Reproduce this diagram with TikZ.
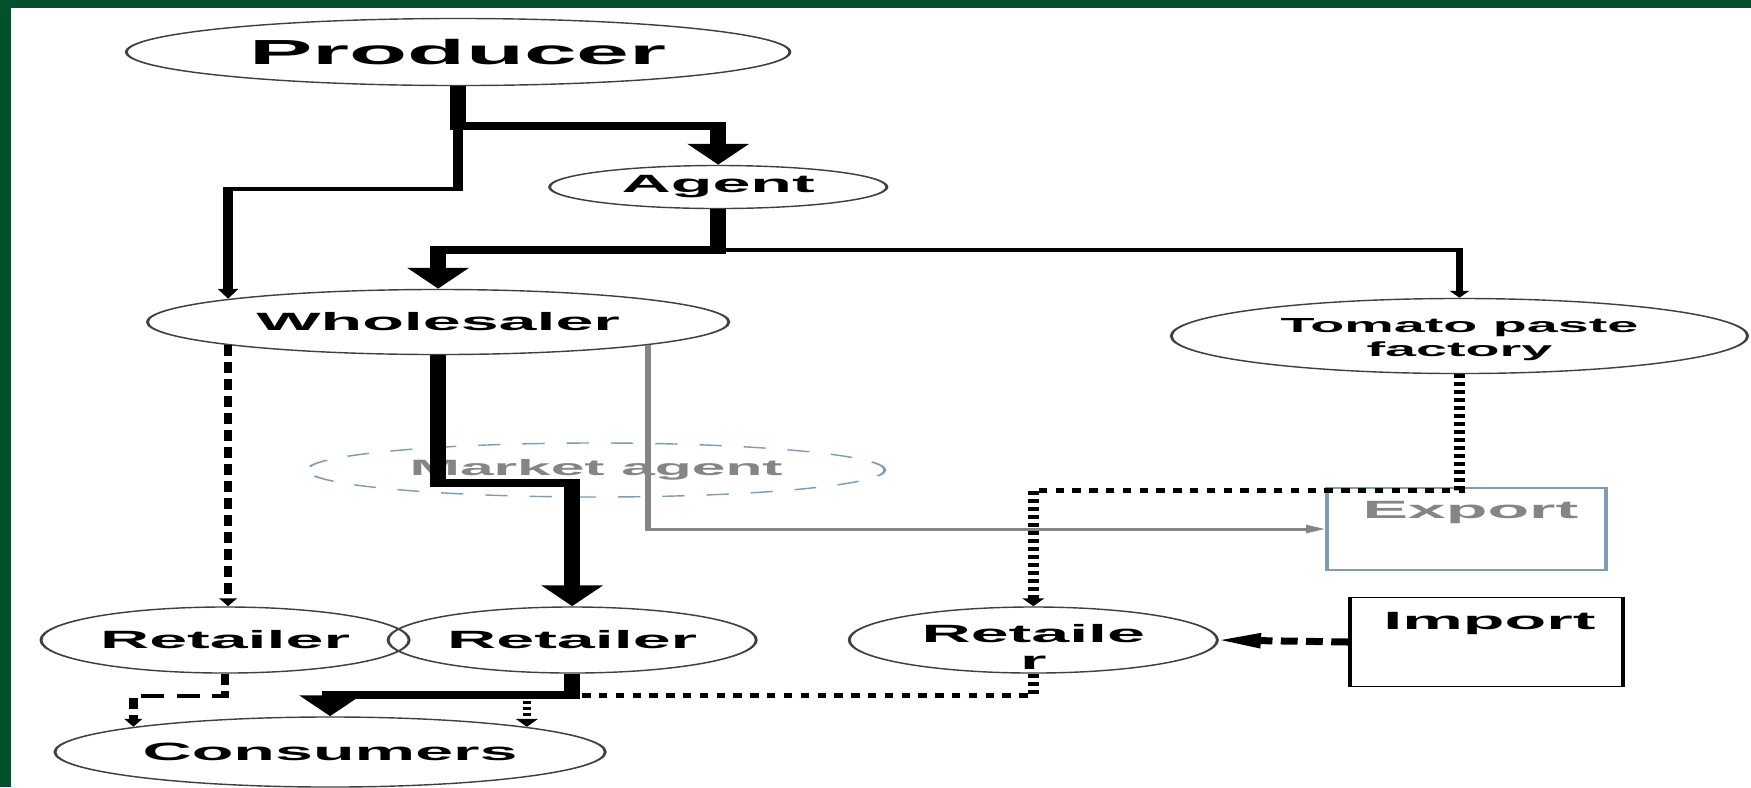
\documentclass[tikz,border=0pt]{standalone}
\usepackage{fontspec}
\usetikzlibrary{arrows.meta,shapes.geometric}
\newfontfamily\diagfont[FakeStretch=1.3]{Liberation Sans Bold}
\definecolor{bandgreen}{HTML}{03502D}
\definecolor{paleblue}{HTML}{7E9CB4}
\definecolor{linegray}{HTML}{858585}

\begin{document}
\begin{tikzpicture}[
	x=0.01cm, y=-0.01cm,
	every node/.style={font=\diagfont\fontsize{7.1}{7.7}\selectfont},
	bubble/.style={shape=ellipse, draw=black!75, line width=0.4pt, inner sep=0pt},
	dimbubble/.style={shape=ellipse, draw=paleblue, dashed, line width=0.4pt, inner sep=0pt, text=linegray},
	retailer/.style={bubble, minimum width=1.752cm, minimum height=0.66cm},
	tradebox/.style={shape=rectangle, draw, line width=0.5pt, inner sep=0pt},
	fatline/.style={line width=0.075cm, -{Triangle[width=0.28cm,length=0.21cm]}},
	midline/.style={line width=0.045cm, -{Triangle[width=0.09cm,length=0.1cm]}},
	thinline/.style={line width=0.033cm, -{Triangle[width=0.09cm,length=0.07cm]}},
	grayline/.style={draw=linegray, line width=0.03cm, -{Triangle[width=0.08cm,length=0.09cm]}},
	dashline/.style={line width=0.04cm, dash pattern=on 0.11cm off 0.06cm, -{Triangle[width=0.08cm,length=0.08cm]}},
	dotline/.style={line width=0.05cm, dash pattern=on 0.04cm off 0.04cm, -{Triangle[width=0.1cm,length=0.08cm]}},
	importline/.style={line width=0.07cm, dash pattern=on 0.08cm off 0.04cm, -{Triangle[width=0.14cm,length=0.2cm]}},
]
\useasboundingbox (0,0) rectangle (1751,787);
\fill[white] (0,0) rectangle (1751,787);
\fill[bandgreen] (0,0) rectangle (1751,7.5);
\fill[bandgreen] (0,0) rectangle (11,787);

\begin{scope}[transform canvas={xscale=2.1}, x=0.0047619cm]
\node[bubble, minimum width=3.157cm, minimum height=0.67cm, font=\diagfont\fontsize{9.9}{10}\selectfont] (prod) at (458,52) {Producer};
\node[bubble, minimum width=1.605cm, minimum height=0.43cm] (agent) at (718,187) {Agent};
\node[bubble, minimum width=2.767cm, minimum height=0.65cm] (whole) at (438,322) {Wholesaler};
\node[bubble, minimum width=2.743cm, minimum height=0.75cm] (fact) at (1459,336) {};
\node[align=center, font=\diagfont\fontsize{5.8}{6.8}\selectfont] (facttxt) at (1459,340) {Tomato paste\\factory};
\node[dimbubble, minimum width=2.748cm, minimum height=0.54cm, font=\diagfont\fontsize{6.3}{7}\selectfont] (magent) at (596,470) {Market agent};
\node[tradebox, draw=paleblue, minimum width=1.329cm, minimum height=0.82cm] (export) at (1466,529) {};
\node[text=linegray] (exptxt) at (1470,512) {Export};
\node[tradebox, minimum width=1.3cm, minimum height=0.89cm] (import) at (1486,642) {};
\node (imptxt) at (1489,623) {Import};
\node[retailer] (retL) at (225,640) {Retailer};
\node[retailer] (retM) at (572,640) {Retailer};
\node[retailer] (retR) at (1033,640) {};
\node[align=center] (retRtxt) at (1033,647) {Retaile\\r};
\node[bubble, minimum width=2.619cm, minimum height=0.7cm] (cons) at (330,752) {Consumers};

\coordinate (j1) at (458,126);
\coordinate (j2) at (718,250);
\coordinate (j3) at (438,483);
\coordinate (j4) at (1459,490);
\coordinate (j5) at (572,695);

\draw[fatline] (prod.south) -- (j1) -| (agent.north);
\draw[midline] (j1) -- ++(0,63) -| (whole.167);
\draw[fatline] (agent.south) -- (j2) -| (whole.north);
\draw[thinline] (j2) -| (fact.north);
\draw[dashline] (whole.193) -- (whole.193 |- retL.north);
\draw[fatline] (whole.south) -- (j3) -| (retM.north);
\draw[grayline] (whole.-13) |- (export.west);
\draw[dotline] (fact.south) -- (j4) -| (retR.north);
\draw[importline] (import.west) -- (retR.east);
\draw[fatline] (retM.south) -- (j5) -| (cons.north);
\draw[dotline, -] (retR.south) |- (j5);
\draw[dashline] (retL.south) -- ++(0,22) -| (cons.165);
\draw[dotline, line width=0.04cm, dash pattern=on 0.03cm off 0.03cm] (cons.15 |- j5) -- (cons.15);
\end{scope}
\end{tikzpicture}
\end{document}
